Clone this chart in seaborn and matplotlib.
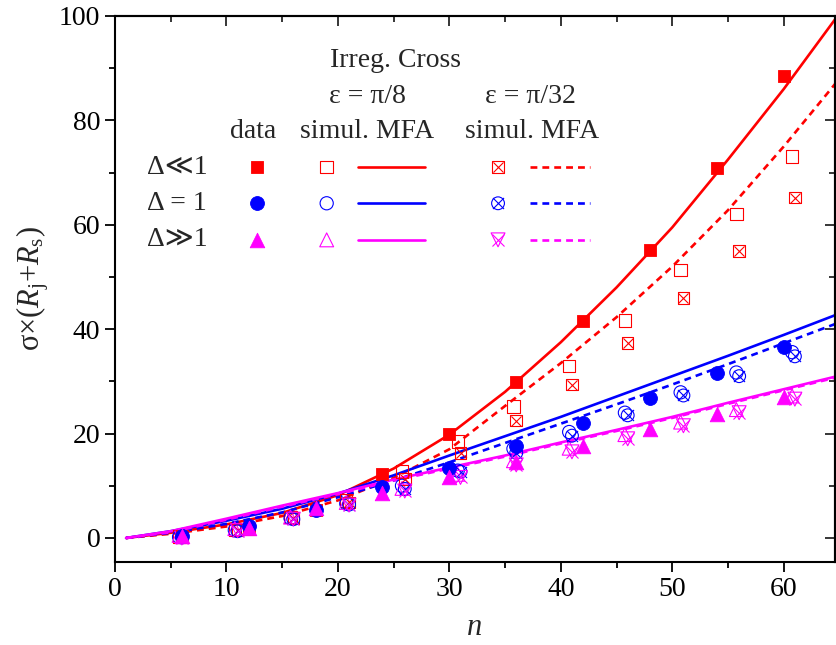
import numpy as np
import pandas as pd
import matplotlib
matplotlib.use('Agg')
import matplotlib.pyplot as plt
import seaborn as sns
from matplotlib.ticker import MultipleLocator

sns.set_style('ticks')
plt.rcParams['font.family'] = ['Liberation Serif', 'DejaVu Serif', 'DejaVu Sans']
plt.rcParams['mathtext.fontset'] = 'custom'
plt.rcParams['mathtext.rm'] = 'Liberation Serif'
plt.rcParams['mathtext.it'] = 'Liberation Serif:italic'
plt.rcParams['font.size'] = 20

# ---------------- data ----------------
n_data = [6, 12, 18, 24, 30, 36, 42, 48, 54, 60]
data_small = [0.3, 1.8, 5.3, 12.3, 20.0, 29.8, 41.5, 55.2, 70.8, 88.5]
data_one = [0.3, 2.3, 5.4, 9.8, 13.4, 17.6, 22.1, 26.9, 31.7, 36.6]
data_large = [0.3, 2.0, 5.8, 8.6, 11.7, 14.6, 17.7, 20.8, 23.8, 27.1]

n_sim8 = [5.75, 10.75, 15.75, 20.75, 25.75, 30.75, 35.75, 40.75, 45.75, 50.75, 55.75, 60.75]
sim8_small = [0.3, 1.6, 4.0, 7.2, 12.7, 18.5, 25.2, 32.9, 41.7, 51.3, 62.1, 73.1]
sim8_one = [0.2, 1.5, 3.8, 6.6, 10.0, 12.9, 17.1, 20.3, 24.0, 27.9, 31.7, 35.6]
sim8_large = [0.5, 1.8, 4.0, 6.8, 9.5, 12.2, 14.8, 17.2, 19.8, 22.2, 24.6, 27.2]

n_sim32 = [6, 11, 16, 21, 26, 31, 36, 41, 46, 51, 56, 61]
sim32_small = [0.2, 1.5, 3.8, 6.8, 11.3, 16.3, 22.5, 29.4, 37.3, 46.0, 55.0, 65.2]
sim32_one = [0.1, 1.3, 3.6, 6.4, 9.4, 12.7, 16.3, 19.6, 23.5, 27.3, 31.0, 34.8]
sim32_large = [0.0, 1.4, 3.6, 6.3, 9.0, 11.6, 14.0, 16.5, 19.0, 21.5, 24.0, 26.6]

n_mfa = [1, 5, 10, 15, 20, 25, 30, 35, 40, 45, 50, 55, 60, 65]
mfa8_small = [0, 1.0, 2.6, 4.8, 8.2, 13.3, 19.8, 28.0, 37.5, 48.0, 59.5, 72.5, 86.0, 100.5]
mfa32_small = [0, 0.8, 2.2, 4.2, 7.2, 11.5, 17.0, 25.3, 33.5, 42.3, 52.0, 62.8, 75.0, 88.0]
mfa8_one = [0, 1.3, 3.3, 5.6, 8.5, 12.0, 15.8, 19.5, 23.2, 27.1, 31.0, 34.9, 38.9, 43.0]
mfa32_one = [0, 1.0, 2.7, 4.9, 7.8, 11.0, 14.5, 18.2, 21.9, 25.6, 29.4, 33.3, 37.3, 41.3]
mfa8_large = [0, 1.3, 3.7, 6.2, 8.6, 11.2, 13.5, 15.8, 18.3, 20.7, 23.2, 25.9, 28.5, 31.1]
mfa32_large = [0, 1.1, 3.5, 6.0, 8.4, 11.0, 13.3, 15.6, 18.1, 20.5, 23.0, 25.7, 28.3, 30.9]

row_labels = ['Δ≪1', 'Δ = 1', 'Δ≫1']
RED, BLUE, MAG = '#ff0000', '#0000ff', '#ff00ff'
colors = [RED, BLUE, MAG]

# ---------------- figure ----------------
fig = plt.figure(figsize=(8.37, 6.45), dpi=100)
ax = fig.add_axes([0.1374, 0.1287, 0.8602, 0.8465])

lw = 1.9
dash = (2.6, 1.9)
for y8, y32, c in [(mfa8_small, mfa32_small, RED), (mfa8_one, mfa32_one, BLUE),
                   (mfa8_large, mfa32_large, MAG)]:
    sns.lineplot(x=n_mfa, y=y8, color=c, lw=lw, ax=ax, zorder=2)
    sns.lineplot(x=n_mfa, y=y32, color=c, lw=lw, ax=ax, dashes=False, zorder=2,
                 linestyle=(0, dash))

# data (filled)
filled = [(data_small, 's', 75), (data_one, 'o', 100), (data_large, '^', 110)]
for (yv, m, s), c in zip(filled, colors):
    sns.scatterplot(x=n_data, y=yv, marker=m, s=s, color=c, edgecolor=c,
                    linewidth=0.6, ax=ax, zorder=4)

# simulation eps = pi/8 (open)
opens = [(sim8_small, 's', 80), (sim8_one, 'o', 90), (sim8_large, '^', 100)]
for (yv, m, s), c in zip(opens, colors):
    sns.scatterplot(x=n_sim8, y=yv, marker=m, s=s, facecolors='none', edgecolor=c,
                    linewidth=0.8, ax=ax, zorder=3)

# simulation eps = pi/32 (crossed)
crossed = [(sim32_small, 's', 70), (sim32_one, 'o', 85), (sim32_large, 'v', 100)]
for (yv, m, s), c in zip(crossed, colors):
    sns.scatterplot(x=n_sim32, y=yv, marker=m, s=s, facecolors='none', edgecolor=c,
                    linewidth=0.8, ax=ax, zorder=3)
    sns.scatterplot(x=n_sim32, y=yv, marker='x', s=s * 0.75, color=c,
                    linewidth=0.8, ax=ax, zorder=3)

ax.set_xlim(0, 64.6)
ax.set_ylim(-4.6, 100)
ax.xaxis.set_major_locator(MultipleLocator(10))
ax.xaxis.set_minor_locator(MultipleLocator(5))
ax.yaxis.set_major_locator(MultipleLocator(20))
ax.yaxis.set_minor_locator(MultipleLocator(10))
for sp in ax.spines.values():
    sp.set_visible(True)
    sp.set_linewidth(1.5)
    sp.set_color('black')
ax.tick_params(which='both', direction='out', width=1.3, labelsize=20, colors='black',
               top=False, right=False)
ax.tick_params(which='major', length=7)
ax.tick_params(which='minor', length=4.5)

secx = ax.secondary_xaxis('top')
secx.xaxis.set_major_locator(MultipleLocator(10))
secx.xaxis.set_minor_locator(MultipleLocator(5))
secx.tick_params(which='both', direction='in', width=1.3, labeltop=False)
secx.tick_params(which='major', length=7)
secx.tick_params(which='minor', length=4.5)
secx.spines['top'].set_linewidth(1.5)
secy = ax.secondary_yaxis('right')
secy.yaxis.set_major_locator(MultipleLocator(20))
secy.yaxis.set_minor_locator(MultipleLocator(10))
secy.tick_params(which='both', direction='in', width=1.3, labelright=False)
secy.tick_params(which='major', length=7)
secy.tick_params(which='minor', length=4.5)
secy.spines['right'].set_linewidth(1.5)

ax.set_xlabel('n', fontsize=22, fontstyle='italic', labelpad=8)
ax.set_ylabel(r'σ×($R_{\rm j}$+$R_{\rm s}$)', fontsize=22, labelpad=6)

# ---------------- in-plot legend ----------------
T = ax.transAxes
fs = 20
ax.text(0.390, 0.919, 'Irreg. Cross', transform=T, ha='center', va='center', fontsize=fs)
ax.text(0.350, 0.852, 'ε = π/8', transform=T, ha='center', va='center', fontsize=fs)
ax.text(0.577, 0.852, 'ε = π/32', transform=T, ha='center', va='center', fontsize=fs)
ax.text(0.192, 0.788, 'data', transform=T, ha='center', va='center', fontsize=fs)
ax.text(0.350, 0.788, 'simul. MFA', transform=T, ha='center', va='center', fontsize=fs)
ax.text(0.579, 0.788, 'simul. MFA', transform=T, ha='center', va='center', fontsize=fs)

row_y = [0.723, 0.657, 0.590]
fm = ['s', 'o', '^']
om = ['s', 'o', '^']
cm = ['s', 'o', 'v']
for i, (lab, yy, c) in enumerate(zip(row_labels, row_y, colors)):
    ax.text(0.045, yy, lab, transform=T, ha='left', va='center', fontsize=fs)
    ax.scatter([0.197], [yy], transform=T, marker=fm[i], s=filled[i][2], color=c,
               edgecolor=c, linewidth=0.6, clip_on=False, zorder=5)
    ax.scatter([0.294], [yy], transform=T, marker=om[i], s=opens[i][2], facecolors='none',
               edgecolors=c, linewidth=0.8, clip_on=False, zorder=5)
    ax.plot([0.3375, 0.430], [yy, yy], transform=T, color=c, lw=lw)
    ax.scatter([0.532], [yy], transform=T, marker=cm[i], s=crossed[i][2], facecolors='none',
               edgecolors=c, linewidth=0.8, clip_on=False, zorder=5)
    ax.scatter([0.532], [yy], transform=T, marker='x', s=crossed[i][2] * 0.75, color=c,
               linewidth=0.8, clip_on=False, zorder=5)
    ax.plot([0.576, 0.660], [yy, yy], transform=T, color=c, lw=lw, linestyle=(0, dash))

fig.savefig('out.png', dpi=100)
